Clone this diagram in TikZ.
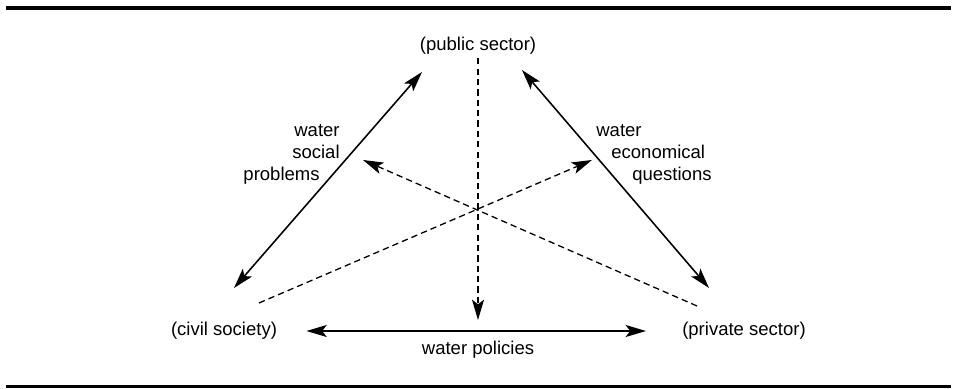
\documentclass[tikz,border=0pt]{standalone}
\usepackage{fontspec}
\setmainfont{Liberation Sans}
\usetikzlibrary{arrows.meta}

\begin{document}
\begin{tikzpicture}[x=0.54pt,y=-0.54pt,
        >={Stealth[length=11pt,width=6.5pt,inset=2.5pt]},
        every node/.style={inner sep=0pt,font=\fontsize{10}{11.9}\selectfont},
        link/.style={line width=0.85pt},
        tie/.style={line width=0.7pt,dash pattern=on 3.4pt off 2.2pt},
        rule/.style={line width=1.8pt}]
        \useasboundingbox (0,0) rectangle (953,389);
        \draw [rule] (6,8) -- (951,8);
        \draw [rule] (6,386.5) -- (951,386.5);
        % the three sectors
        \node (pub) at (478,45.5) {(public sector)};
        \node (civ) at (224,331) {(civil society)};
        \node (priv) at (744,331) {(private sector)};
        % arrow ends
        \coordinate (civUp) at (234,288);
        \coordinate (pubL) at (422,72);
        \coordinate (pubR) at (522,70);
        \coordinate (privUp) at (709,288);
        \coordinate (civDash) at (259,303);
        \coordinate (privDash) at (697,306);
        \coordinate (tipL) at (363,160);
        \coordinate (tipR) at (592,160);
        \coordinate (polTop) at (478,320);
        % solid links
        \draw [link,<->] (civUp) -- (pubL);
        \draw [link,<->] (pubR) -- (privUp);
        \draw [link,<->,shorten <=15.7pt,shorten >=19.4pt] (civ.east) -- (priv.west);
        \node (polLbl) at (478,350) {water policies};
        \node [anchor=east,align=right] (socLbl) at (340,154)
            {water\\social\hspace*{3.8pt}\\problems\hspace*{10.8pt}};
        \node [anchor=west,align=left] (ecoLbl) at (596,154)
            {water\\\hspace*{8.1pt}economical\\\hspace*{19.4pt}questions};
        % dashed influences
        \draw [tie,->,shorten <=2pt] (pub.south) -- (polTop);
        \draw [tie,->] (civDash) -- (tipR);
        \draw [tie,->] (privDash) -- (tipL);
\end{tikzpicture}
\end{document}
